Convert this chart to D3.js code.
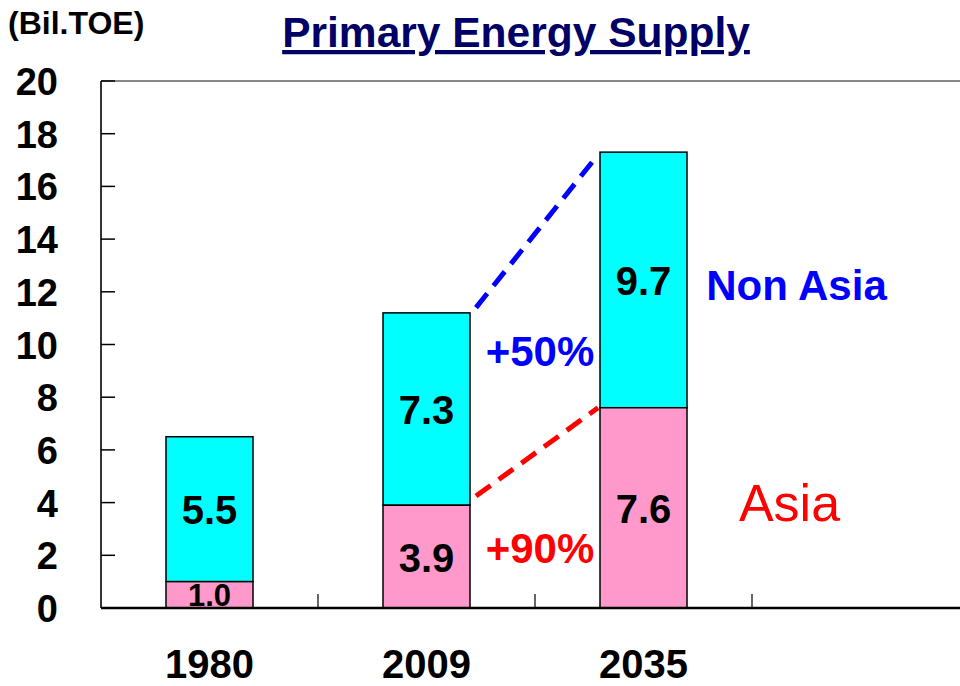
<!DOCTYPE html>
<html>
<head>
<meta charset="utf-8">
<title>Primary Energy Supply</title>
<script src="https://cdn.jsdelivr.net/npm/d3@7"></script>
<style>
    body { margin: 0; background: #fff; }
    text { font-family: "Liberation Sans", Arial, sans-serif; }
    .tick-label { font-weight: bold; font-size: 38px; fill: #000; }
    .year { font-weight: bold; font-size: 40px; fill: #000; text-anchor: middle; }
    .val { font-weight: bold; font-size: 40px; fill: #000; text-anchor: middle; }
</style>
</head>
<body>
<script>
    var years = ["1980", "2009", "2035"];
    var asia = [1.0, 3.9, 7.6];
    var nonAsia = [5.5, 7.3, 9.7];
    var yTicks = [0, 2, 4, 6, 8, 10, 12, 14, 16, 18, 20];

    var width = 960, height = 686;
    var plotLeft = 101, plotTop = 81, plotBottom = 608;
    var band = 217;

    var svg = d3.select("body").append("svg")
        .attr("width", width)
        .attr("height", height);

    var x = d3.scaleBand().domain(years)
        .range([plotLeft, plotLeft + band * years.length]);
    var y = d3.scaleLinear().domain([0, 20]).range([plotBottom, plotTop]);
    var barW = 87;

    // frame
    svg.append("line")
        .attr("x1", plotLeft).attr("x2", width)
        .attr("y1", plotTop).attr("y2", plotTop)
        .attr("stroke", "#888").attr("stroke-width", 2);
    svg.append("line")
        .attr("x1", plotLeft).attr("x2", plotLeft)
        .attr("y1", plotTop).attr("y2", plotBottom)
        .attr("stroke", "#333").attr("stroke-width", 2);

    // y ticks (inside)
    svg.selectAll(".ytick").data(yTicks).enter().append("line")
        .attr("x1", plotLeft).attr("x2", plotLeft + 14)
        .attr("y1", function (d) { return y(d); })
        .attr("y2", function (d) { return y(d); })
        .attr("stroke", "#000").attr("stroke-width", 1.5);
    svg.selectAll(".tick-label").data(yTicks).enter().append("text")
        .attr("class", "tick-label")
        .attr("x", 58)
        .attr("y", function (d) { return y(d) + 14; })
        .attr("text-anchor", "end")
        .text(function (d) { return d; });

    // bars
    var rows = years.map(function (yr, i) { return { year: yr, asia: asia[i], non: nonAsia[i] }; });
    var g = svg.selectAll(".bar").data(rows).enter().append("g");
    g.append("rect")
        .attr("x", function (d) { return x(d.year) + (band - barW) / 2; })
        .attr("width", barW)
        .attr("y", function (d) { return y(d.asia + d.non); })
        .attr("height", function (d) { return y(d.asia) - y(d.asia + d.non); })
        .attr("fill", "#00ffff").attr("stroke", "#000").attr("stroke-width", 1.5);
    g.append("rect")
        .attr("x", function (d) { return x(d.year) + (band - barW) / 2; })
        .attr("width", barW)
        .attr("y", function (d) { return y(d.asia); })
        .attr("height", function (d) { return y(0) - y(d.asia); })
        .attr("fill", "#ff99cc").attr("stroke", "#000").attr("stroke-width", 1.5);

    g.append("text").attr("class", "val")
        .attr("x", function (d) { return x(d.year) + band / 2; })
        .attr("y", function (d) { return (y(d.asia) + y(d.asia + d.non)) / 2 + 15; })
        .text(function (d) { return d.non.toFixed(1); });
    g.append("text").attr("class", "val")
        .attr("x", function (d) { return x(d.year) + band / 2; })
        .attr("y", function (d) { return d.asia < 2 ? y(0) - 2 : (y(0) + y(d.asia)) / 2 + 15; })
        .style("font-size", function (d) { return d.asia < 2 ? "31px" : null; })
        .text(function (d) { return d.asia.toFixed(1); });

    // x axis
    svg.append("line")
        .attr("x1", plotLeft).attr("x2", width)
        .attr("y1", plotBottom).attr("y2", plotBottom)
        .attr("stroke", "#000").attr("stroke-width", 2.5);
    svg.selectAll(".xtick").data(years).enter().append("line")
        .attr("x1", function (d) { return x(d) + band; })
        .attr("x2", function (d) { return x(d) + band; })
        .attr("y1", plotBottom).attr("y2", plotBottom - 14)
        .attr("stroke", "#000").attr("stroke-width", 1.2);
    svg.selectAll(".year").data(years).enter().append("text")
        .attr("class", "year")
        .attr("x", function (d) { return x(d) + band / 2; })
        .attr("y", 678)
        .text(function (d) { return d; });

    // growth lines
    var x0 = x("2009") + (band + barW) / 2 + 6;
    var x1 = x("2035") + (band - barW) / 2 - 2;
    svg.append("line")
        .attr("x1", x0).attr("y1", y(asia[1] + nonAsia[1] + 0.2))
        .attr("x2", x1).attr("y2", y(asia[2] + nonAsia[2] - 0.1))
        .attr("stroke", "#0000ff").attr("stroke-width", 5)
        .attr("stroke-dasharray", "18,10");
    svg.append("line")
        .attr("x1", x0).attr("y1", y(asia[1] + 0.35))
        .attr("x2", x1).attr("y2", y(asia[2]))
        .attr("stroke", "#ff0000").attr("stroke-width", 5)
        .attr("stroke-dasharray", "18,10");

    // annotations
    var mid = x("2035") + 5;
    svg.append("text").attr("x", mid).attr("y", y(9.2))
        .attr("text-anchor", "middle").attr("font-weight", "bold")
        .attr("font-size", 42).attr("fill", "#0000ff").text("+50%");
    svg.append("text").attr("x", mid).attr("y", y(1.7))
        .attr("text-anchor", "middle").attr("font-weight", "bold")
        .attr("font-size", 42).attr("fill", "#ff0000").text("+90%");
    svg.append("text").attr("x", x("2035") + band / 2 + 153).attr("y", y(11.7))
        .attr("text-anchor", "middle").attr("font-weight", "bold")
        .attr("font-size", 42).attr("fill", "#0000ff").text("Non Asia");
    svg.append("text").attr("x", x("2035") + band / 2 + 146).attr("y", y(3.3))
        .attr("text-anchor", "middle")
        .attr("font-size", 52).attr("fill", "#ff0000").text("Asia");

    // titles
    svg.append("text").attr("x", 8).attr("y", 34)
        .attr("font-weight", "bold").attr("font-size", 32).attr("fill", "#000")
        .text("(Bil.TOE)");
    svg.append("text").attr("x", 516).attr("y", 47)
        .attr("text-anchor", "middle").attr("font-weight", "bold")
        .attr("font-size", 42.5).attr("fill", "#000066")
        .attr("text-decoration", "underline")
        .text("Primary Energy Supply");
</script>
</body>
</html>
